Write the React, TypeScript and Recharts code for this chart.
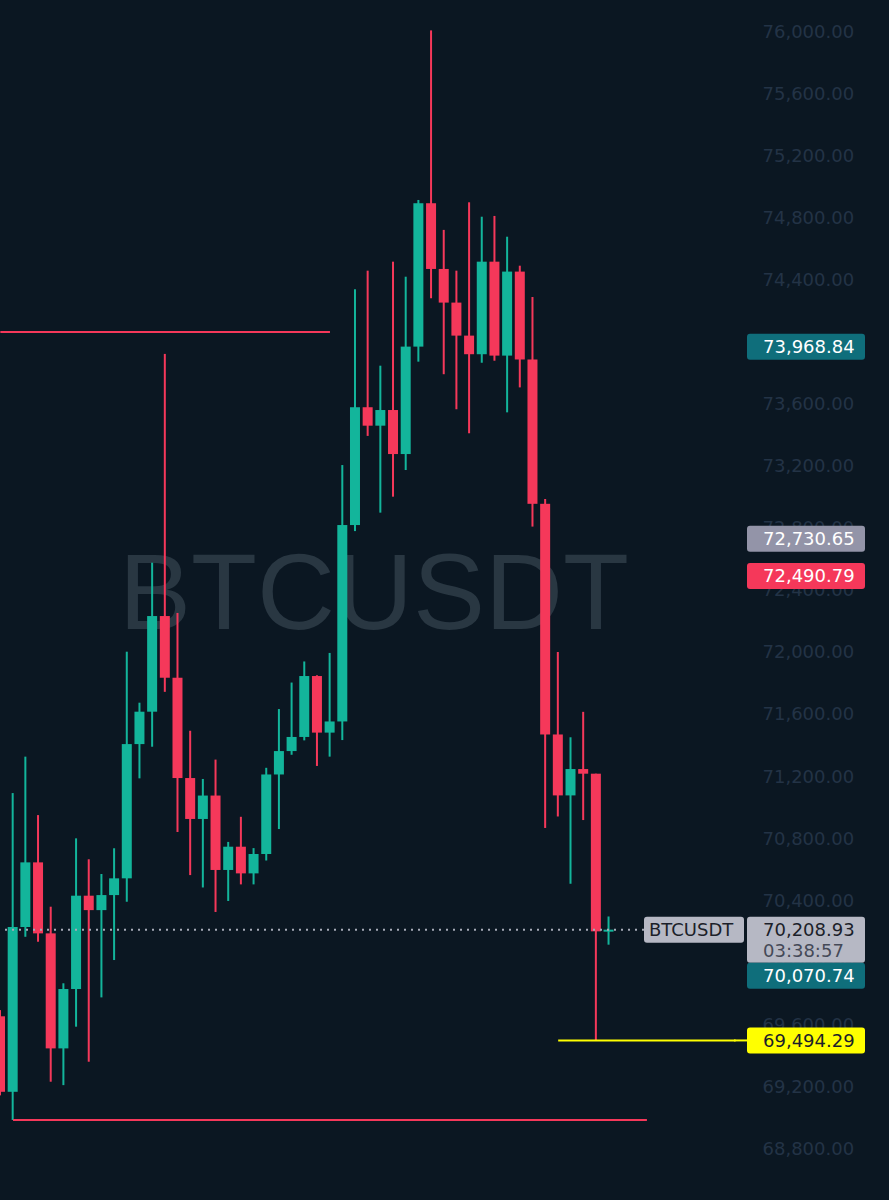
import { ComposedChart, Bar, XAxis, YAxis, ReferenceLine } from 'recharts';

// 4h candles
const opens = [
  69650, 69163, 70226, 70643, 70185, 69443, 69826, 70428, 70335, 70432,
  70540, 71406, 71615, 72232, 71834, 71187, 70923, 71074, 70594, 70744,
  70572, 70697, 71210, 71361, 71452, 71845, 71480, 71552, 72819, 73579,
  73460, 73561, 73277, 73970, 74895, 74471, 74254, 74041, 73921, 74518,
  73912, 74454, 73887, 72956, 71468, 71075, 71245, 71215, 70198,
];
const highs = [
  69690, 71090, 71325, 70948, 70357, 69863, 70798, 70663, 70568, 70734,
  72002, 71673, 72576, 73923, 72252, 71492, 71181, 71306, 70775, 70937,
  70735, 71253, 71632, 71803, 71939, 71850, 71994, 73206, 74340, 74460,
  73847, 74518, 74421, 74916, 76010, 74723, 74460, 74901, 74808, 74813,
  74679, 74492, 74290, 72987, 72000, 71450, 71614, 71215, 70294,
];
const lows = [
  69140, 68981, 70163, 70131, 69228, 69206, 69583, 69357, 69772, 70013,
  70389, 71185, 71389, 71743, 70839, 70561, 70481, 70323, 70394, 70501,
  70501, 70655, 70858, 71337, 71430, 71265, 71325, 71432, 72780, 73394,
  72899, 73002, 73174, 73873, 74282, 73792, 73566, 73411, 73866, 73879,
  73546, 73707, 72809, 70865, 70939, 70505, 70916, 69494.29, 70112,
];
const closes = [
  69163, 70226, 70643, 70185, 69443, 69826, 70428, 70335, 70432, 70540,
  71406, 71615, 72232, 71834, 71187, 70923, 71074, 70594, 70744, 70572,
  70697, 71210, 71361, 71452, 71845, 71480, 71552, 72819, 73579, 73460,
  73561, 73277, 73970, 74895, 74471, 74254, 74041, 73921, 74518, 73912,
  74454, 73887, 72956, 71468, 71075, 71245, 71215, 70198, 70208.93,
];
const emptySlots = 10;

const yTicks = [
  68800, 69200, 69600, 70000, 70400, 70800, 71200, 71600, 72000,
  72400, 72800, 73200, 73600, 74000, 74400, 74800, 75200, 75600, 76000,
];
const yDomain = [68465, 76206];

const symbol = 'BTCUSDT';
const lastPrice = 70208.93;
const countdown = '03:38:57';
const bidPrice = 70070.74;
const sessionLow = 69494.29;
const levelPrices = [73968.84, 72730.65, 72490.79];

// drawn horizontal lines: price and the candle indexes they span
const resistance = 74065;
const resistanceSpan = [0, 26];
const support = 68981;
const supportSpan = [1, 51];
const lowSpan = [44, 58];

const BG = '#0b1722';
const GREEN = '#13b59b';
const RED = '#f5385a';
const TEAL = '#0f6e7b';
const GREY_TAG = '#9394a8';
const LIGHT_TAG = '#b6b8c4';
const YELLOW = '#ffff00';
const DARK_TEXT = '#1c1f2a';
const AXIS_TEXT = '#233346';
const FONT = '"DejaVu Sans", sans-serif';

const levelColors = [TEAL, GREY_TAG, RED];

const data = [
  ...opens.map((o, i) => ({ i, o, h: highs[i], l: lows[i], c: closes[i] })),
  ...Array.from({ length: emptySlots }, (_, k) => ({ i: opens.length + k })),
];

const fmt = (v: number) =>
  v.toLocaleString('en-US', { minimumFractionDigits: 2, maximumFractionDigits: 2 });

const candleRange = (d: any) => (d.o == null ? undefined : [d.l, d.h]);

const AXIS_W = 147;
const TAG_GAP = 5;
const TAG_W = 118;
const TAG_H = 26;

function Candle(props: any) {
  const { x, y, width, height, payload } = props;
  if (!payload || payload.o == null) return null;
  const { o, h, l, c } = payload;
  const color = c >= o ? GREEN : RED;
  const top = Math.min(y, y + height);
  const span = Math.abs(height);
  const ppu = span / (h - l);
  const bodyTop = top + (h - Math.max(o, c)) * ppu;
  const bodyBot = top + (h - Math.min(o, c)) * ppu;
  const cx = x + width / 2;
  return (
    <g>
      <rect x={cx - 1} y={top} width={2} height={span} fill={color} />
      <rect x={x} y={bodyTop} width={width} height={Math.max(bodyBot - bodyTop, 2)} fill={color} />
    </g>
  );
}

function AxisTick(props: any) {
  const { x, y, payload } = props;
  return (
    <text x={x + 20.5} y={y} dy="0.36em" fill={AXIS_TEXT} fontSize={18} fontFamily={FONT}>
      {fmt(payload.value)}
    </text>
  );
}

function Tag({ x, y, text, bg, fg }: { x: number; y: number; text: string; bg: string; fg: string }) {
  return (
    <g>
      <rect x={x} y={y - TAG_H / 2} width={TAG_W} height={TAG_H} rx={3} fill={bg} />
      <text x={x + 16} y={y} dy="0.36em" fill={fg} fontSize={18} fontFamily={FONT}>
        {text}
      </text>
    </g>
  );
}

function LevelTag(props: any) {
  const { viewBox, text, bg, fg } = props;
  if (!viewBox) return null;
  const right = viewBox.x + viewBox.width;
  return <Tag x={right + TAG_GAP} y={viewBox.y} text={text} bg={bg} fg={fg} />;
}

function LowTag(props: any) {
  const { viewBox } = props;
  if (!viewBox) return null;
  const right = viewBox.x + viewBox.width;
  return (
    <g>
      <line x1={right - 8} x2={right + TAG_GAP} y1={viewBox.y} y2={viewBox.y} stroke={YELLOW} strokeWidth={2} />
      <Tag x={right + TAG_GAP} y={viewBox.y} text={fmt(sessionLow)} bg={YELLOW} fg={DARK_TEXT} />
    </g>
  );
}

function LastPriceTag(props: any) {
  const { viewBox } = props;
  if (!viewBox) return null;
  const right = viewBox.x + viewBox.width;
  const y = viewBox.y;
  const boxX = right + TAG_GAP;
  const boxH = 46;
  return (
    <g>
      <rect x={right - 98} y={y - 13} width={100} height={TAG_H} rx={3} fill={LIGHT_TAG} />
      <text x={right - 93} y={y} dy="0.36em" fill={DARK_TEXT} fontSize={18} fontFamily={FONT}>
        {symbol}
      </text>
      <rect x={boxX} y={y - 13} width={TAG_W} height={boxH} rx={3} fill={LIGHT_TAG} />
      <text x={boxX + 16} y={y} dy="0.36em" fill={DARK_TEXT} fontSize={18} fontFamily={FONT}>
        {fmt(lastPrice)}
      </text>
      <text x={boxX + 16} y={y + 21} dy="0.36em" fill="#454957" fontSize={18} fontFamily={FONT}>
        {countdown}
      </text>
      {/* bid tag gets pushed under the last price box */}
      <Tag x={boxX} y={y - 13 + boxH + TAG_H / 2} text={fmt(bidPrice)} bg={TEAL} fg="#ffffff" />
    </g>
  );
}

export default function App() {
  return (
    <div style={{ position: 'absolute', left: 0, top: 0, width: 889, height: 1200, overflow: 'hidden', background: BG }}>
      <svg width={889} height={1200} style={{ position: 'absolute', left: 0, top: 0 }}>
        <text x={374} y={629} textAnchor="middle" fill="#293742" fontSize={108} fontFamily='"Liberation Sans", Arial, sans-serif'>
          {symbol}
        </text>
      </svg>

      {/* price chart */}
      <div style={{ position: 'absolute', left: -6, top: 0 }}>
        <ComposedChart width={895} height={1200} data={data} margin={{ top: 0, right: 0, bottom: 0, left: 0 }}>
          <XAxis dataKey="i" type="category" hide />
          <YAxis
            orientation="right"
            type="number"
            width={AXIS_W}
            domain={yDomain}
            ticks={yTicks}
            interval={0}
            allowDataOverflow
            axisLine={false}
            tickLine={false}
            tickSize={0}
            tickMargin={0}
            tick={<AxisTick />}
          />
          <ReferenceLine
            segment={[{ x: resistanceSpan[0], y: resistance }, { x: resistanceSpan[1], y: resistance }]}
            stroke={RED}
            strokeWidth={2}
          />
          <ReferenceLine
            segment={[{ x: supportSpan[0], y: support }, { x: supportSpan[1], y: support }]}
            stroke={RED}
            strokeWidth={2}
          />
          <ReferenceLine
            segment={[{ x: lowSpan[0], y: sessionLow }, { x: lowSpan[1], y: sessionLow }]}
            stroke={YELLOW}
            strokeWidth={2}
          />
          <ReferenceLine y={lastPrice} stroke="#a7abb8" strokeWidth={2} strokeDasharray="2 5" />
          <Bar dataKey={candleRange} shape={<Candle />} barSize={10} isAnimationActive={false} />
        </ComposedChart>
      </div>

      {/* price tags on the scale, same plot geometry, drawn on top of the tick labels */}
      <div style={{ position: 'absolute', left: -6, top: 0 }}>
        <ComposedChart width={895} height={1200} data={data} margin={{ top: 0, right: AXIS_W, bottom: 0, left: 0 }}>
          <XAxis dataKey="i" type="category" hide />
          <YAxis type="number" domain={yDomain} allowDataOverflow hide />
          {levelPrices.map((p, k) => (
            <ReferenceLine
              key={p}
              y={p}
              stroke="none"
              label={<LevelTag text={fmt(p)} bg={levelColors[k]} fg="#ffffff" />}
            />
          ))}
          <ReferenceLine y={sessionLow} stroke="none" label={<LowTag />} />
          <ReferenceLine y={lastPrice} stroke="none" label={<LastPriceTag />} />
        </ComposedChart>
      </div>
    </div>
  );
}
